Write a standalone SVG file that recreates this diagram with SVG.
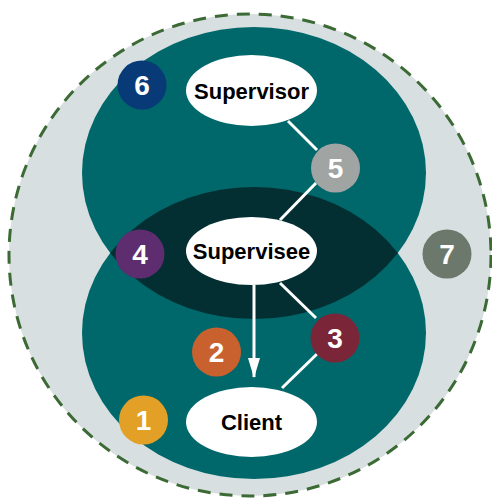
<svg xmlns="http://www.w3.org/2000/svg" width="492" height="500" viewBox="0 0 492 500">
  <defs>
    <style>
      .ring { fill: #d8dfe0; stroke: #3b6a35; stroke-width: 3; stroke-dasharray: 13 9; }
      .area { fill: #00676a; }
      .overlap { fill: #032f32; }
      .node { fill: #ffffff; }
      .label { font-family: "Liberation Sans", Arial, sans-serif; font-weight: bold; font-size: 22px; fill: #000000; text-anchor: middle; }
      .num { font-family: "Liberation Sans", Arial, sans-serif; font-weight: bold; font-size: 28px; fill: #ffffff; text-anchor: middle; }
      .link { stroke: #ffffff; stroke-width: 3; fill: none; }
    </style>
    <clipPath id="topClip">
      <ellipse cx="254" cy="173" rx="172" ry="146"/>
    </clipPath>
    <marker id="arrowHead" markerWidth="20" markerHeight="12" refX="19" refY="6" orient="auto" markerUnits="userSpaceOnUse" viewBox="0 0 20 12">
      <polygon points="0,0 20,6 0,12" fill="#ffffff"/>
    </marker>
  </defs>

  <!-- outer boundary -->
  <circle class="ring" cx="250" cy="255" r="241"/>

  <!-- overlapping areas -->
  <g id="areas">
    <ellipse class="area" cx="254" cy="173" rx="172" ry="146"/>
    <ellipse class="area" cx="254" cy="333" rx="172" ry="146"/>
    <ellipse class="overlap" cx="254" cy="333" rx="172" ry="146" clip-path="url(#topClip)"/>
  </g>

  <!-- connectors -->
  <g id="connectors">
    <line class="link" x1="288" y1="121" x2="317" y2="150"/>
    <line class="link" x1="316" y1="183" x2="280" y2="220"/>
    <line class="link" x1="280" y1="283" x2="316" y2="318"/>
    <line class="link" x1="318" y1="353" x2="282" y2="388"/>
    <line class="link" x1="254" y1="285" x2="254" y2="377" marker-end="url(#arrowHead)"/>
  </g>

  <!-- people -->
  <g id="supervisor">
    <ellipse class="node" cx="251.5" cy="90.5" rx="65.5" ry="35.5"/>
    <text class="label" x="251.5" y="98.5">Supervisor</text>
  </g>
  <g id="supervisee">
    <ellipse class="node" cx="251.5" cy="251" rx="65.5" ry="34"/>
    <text class="label" x="251.5" y="259">Supervisee</text>
  </g>
  <g id="client">
    <ellipse class="node" cx="251.5" cy="422" rx="65.5" ry="35"/>
    <text class="label" x="251.5" y="430">Client</text>
  </g>

  <!-- numbered markers -->
  <g id="badge1">
    <circle cx="143.5" cy="420" r="24.5" fill="#e3a026"/>
    <text class="num" x="143.5" y="430">1</text>
  </g>
  <g id="badge2">
    <circle cx="216.5" cy="352" r="24.5" fill="#c8612e"/>
    <text class="num" x="216.5" y="362">2</text>
  </g>
  <g id="badge3">
    <circle cx="335" cy="338" r="24.5" fill="#7a2638"/>
    <text class="num" x="335" y="348">3</text>
  </g>
  <g id="badge4">
    <circle cx="140" cy="254" r="24.5" fill="#5e2d6f"/>
    <text class="num" x="140" y="264">4</text>
  </g>
  <g id="badge5">
    <circle cx="335.5" cy="168" r="24.5" fill="#a0a4a3"/>
    <text class="num" x="335.5" y="178">5</text>
  </g>
  <g id="badge6">
    <circle cx="142" cy="85" r="24.5" fill="#083a78"/>
    <text class="num" x="142" y="95">6</text>
  </g>
  <g id="badge7">
    <circle cx="447" cy="254" r="24.5" fill="#6b786b"/>
    <text class="num" x="447" y="264">7</text>
  </g>
</svg>
